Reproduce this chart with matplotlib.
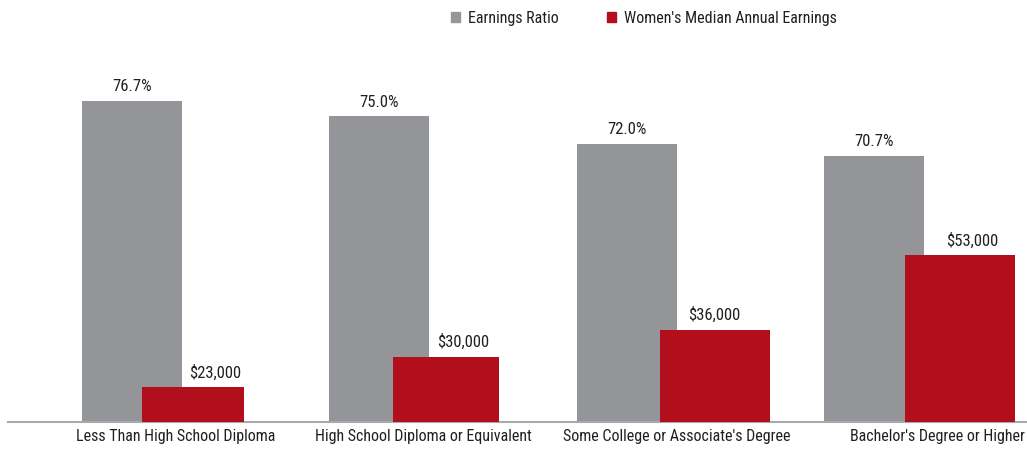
import matplotlib
matplotlib.use("Agg")
import matplotlib.pyplot as plt
from matplotlib.patches import Patch
import numpy as np

# data
categories = ["Less Than High School Diploma", "High School Diploma or Equivalent",
              "Some College or Associate's Degree", "Bachelor's Degree or Higher"]
earnings_ratio = [76.7, 75.0, 72.0, 70.7]
median_earnings = [23000, 30000, 36000, 53000]

# layout (in group units, 1 group = ~247 px)
gray_w = 0.404
red_shift = [0.247, 0.271, 0.356, 0.348]
red_w = [0.412, 0.429, 0.445, 0.445]
lab_shift = [0.336, 0.340, 0.356, 0.396]
tick_shift = [0.178, 0.178, 0.202, 0.255]

GRAY = "#939598"
RED = "#b30e1c"
TXT = "#231f20"
FS = 11.5

plt.rcParams['font.family'] = ['Roboto Condensed', 'Archivo Narrow', 'DejaVu Sans']

fig = plt.figure(figsize=(10.27, 4.51), dpi=100)
ax = fig.add_axes([8/1027, (451-421.7)/451, 1-8/1027, 421.7/451])
ax2 = ax.twinx()

x = np.arange(len(categories))
ax.bar(x, earnings_ratio, width=gray_w, color=GRAY, zorder=2)
ax2.bar(x + np.array(red_shift), median_earnings, width=red_w, color=RED, zorder=3)

ax.set_xlim(-0.501, 3.619)
ax.set_ylim(41.53, 87.77)
ax2.set_ylim(15200, 111000)

for xi, v in zip(x, earnings_ratio):
    ax.annotate(f"{v:.1f}%", (xi, v), xytext=(0, 5), textcoords="offset points",
                ha="center", va="bottom", fontsize=FS + 0.5, color=TXT)
for xi, s, v in zip(x, lab_shift, median_earnings):
    ax2.annotate(f"${v:,}", (xi + s, v), xytext=(0, 5), textcoords="offset points",
                 ha="center", va="bottom", fontsize=FS + 0.5, color=TXT)

ax.set_xticks(x + np.array(tick_shift))
ax.set_xticklabels(categories, fontsize=FS, color=TXT)
ax.tick_params(axis="x", length=0, pad=5)
ax.set_yticks([])
ax2.set_yticks([])
for a in (ax, ax2):
    for side in ("top", "left", "right"):
        a.spines[side].set_visible(False)
    a.spines["bottom"].set_color("#a7a9ac")
    a.spines["bottom"].set_linewidth(1.5)
ax2.spines["bottom"].set_visible(False)

handles = [Patch(color=GRAY, label="Earnings Ratio"),
           Patch(color=RED, label="Women's Median Annual Earnings")]
fig.legend(handles=handles, loc="center", bbox_to_anchor=(644/1027, 1 - 18/451), ncol=2,
           frameon=False, fontsize=FS, handlelength=0.6, handleheight=0.6,
           handletextpad=0.5, columnspacing=3.0, labelcolor=TXT)

fig.savefig("out.png", dpi=100)
